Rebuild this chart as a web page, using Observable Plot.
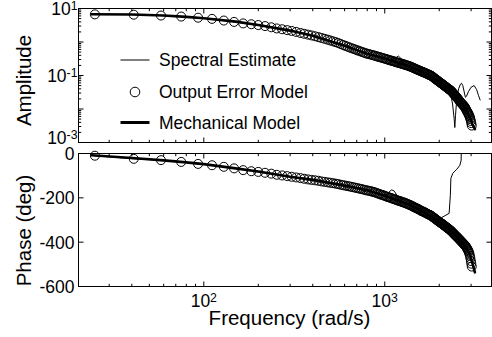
<!DOCTYPE html>
<html><head><meta charset="utf-8">
<script src="https://cdn.jsdelivr.net/npm/d3@7"></script>
<script src="https://cdn.jsdelivr.net/npm/@observablehq/plot@0.6"></script>
<style>
body{margin:0;background:#fff;}
#chart{width:492px;height:337px;position:relative;overflow:hidden;}
#chart svg{display:block;}
</style></head><body><div id="chart"></div>
<script>
// ---------- Output Error Model (circles) ----------
const oeFreq = [25,41,58,75,93,111,129,147,165,183,200,218,236,253,271,289,306,324,342,359,377,394,412,430,447,465,483,500,518,536,553,571,589,606,624,641,659,677,694,712,730,747,765,783,
800,817,835,852,870,888,906,923,941,959,977,994,1012,1030,1047,1065,1083,1100,1118,1136,1153,1171,1189,1206,1224,1242,1259,1277,1295,1312,
1330,1348,1365,1383,1401,1418,1436,1454,1471,1489,1507,1524,1542,1560,1577,1595,1613,1630,1648,1666,1683,1701,1719,1736,1754,1772,1789,1807,1825,1842,
1860,1878,1895,1913,1931,1948,1966,1984,2001,2019,2037,2054,2072,2090,2107,2125,2143,2160,2178,2196,2213,2231,2249,2266,2284,2302,2319,2337,2355,2372,
2390,2408,2425,2443,2461,2478,2496,2514,2531,2549,2567,2584,2602,2620,2637,2655,2673,2690,2708,2726,2743,2761,2779,2796,2814,2832,2849,2867,2885,2902,
2920,2938,2955,2973,2991,3008,3026];
const oeAmp = [6.68,6.53,6.17,5.75,5.31,4.90,4.37,3.98,3.59,3.39,3.20,2.99,2.75,2.54,2.40,2.26,2.14,2.00,1.86,1.76,1.66,1.57,1.48,1.40,1.32,1.245,1.175,1.11,1.047,0.989,0.933,0.871,0.813,0.767,0.724,0.684,0.646,0.617,0.582,0.556,0.531,0.507,0.484,0.462,
0.447,0.434,0.422,0.410,0.398,0.385,0.372,0.361,0.351,0.341,0.331,0.322,0.313,0.304,0.295,0.287,0.279,0.272,0.266,0.258,0.251,0.245,0.240,0.234,0.229,0.224,0.219,0.214,0.209,0.204,
0.200,0.195,0.191,0.185,0.180,0.175,0.170,0.165,0.160,0.155,0.151,0.147,0.143,0.139,0.136,0.132,0.129,0.126,0.123,0.120,0.117,0.114,0.111,0.108,0.106,0.103,0.101,0.098,0.0955,0.0912,
0.0871,0.0837,0.0804,0.0777,0.0750,0.0720,0.0692,0.0669,0.0646,0.0624,0.0603,0.0582,0.0562,0.0543,0.0525,0.0507,0.0490,0.0473,0.0457,0.0442,0.0427,0.0412,0.0398,0.0387,0.0376,0.0365,0.0355,0.0339,0.0324,0.0309,
0.0295,0.0282,0.0269,0.0257,0.0245,0.0234,0.0224,0.0214,0.0204,0.0195,0.0186,0.0178,0.0170,0.0162,0.0155,0.0148,0.0141,0.0136,0.0132,0.0127,0.0123,0.0116,0.0110,0.0104,0.0098,0.0091,0.0085,0.0080,0.0076,0.0071,
0.0066,0.0061,0.0056,0.0050,0.0044,0.0038,0.0032];
const oePhase = [-10,-24,-30,-38,-47,-53,-60,-67,-75,-80,-83,-87,-91,-96,-99,-102,-105,-108,-111,-114,-117,-119,-121,-123,-126,-128,-130,-132,-134,-136,-138,-141,-143,-145,-147,-149,-151,-153,-155,-157,-159,-161,-163,-165,
-167,-168,-170,-172,-174,-176,-179,-181,-184,-186,-188,-190,-193,-195,-197,-199,-201,-203,-205,-207,-209,-211,-213,-214,-216,-218,-220,-221,-223,-225,
-227,-229,-231,-233,-235,-237,-240,-242,-244,-246,-248,-250,-252,-254,-257,-259,-261,-262,-264,-266,-268,-270,-272,-274,-276,-277,-279,-281,-284,-286,
-289,-291,-294,-296,-299,-301,-304,-306,-308,-310,-313,-315,-317,-319,-322,-324,-326,-328,-331,-333,-335,-337,-339,-341,-344,-346,-348,-351,-354,-356,
-359,-362,-365,-367,-370,-372,-375,-377,-380,-382,-385,-387,-390,-392,-395,-397,-400,-402,-405,-407,-409,-412,-415,-418,-421,-424,-428,-432,-436,-441,
-446,-453,-462,-472,-485,-497,-510];

// ---------- Mechanical Model (thick line) ----------
const mechFreq = [24,40,60,80,100,150,200,300,400,600,800,1000,1300,1600,2000,2300,2600,2800,2950,3050,3150];
const mechAmp = [6.76,6.61,6.17,5.62,5.13,4.05,3.2,2.19,1.53,0.776,0.447,0.32,0.204,0.132,0.0646,0.0372,0.0174,0.0102,0.0058,0.0035,0.0025];
const mechPhase = [-8,-20,-31,-40,-48,-67,-81,-105,-119,-145,-166,-191,-224,-259,-308,-345,-390,-420,-455,-495,-536];

// ---------- Spectral Estimate (thin line) ----------
const specAmpFreq = [25,41,58,75,93,111,150,200,300,400,600,800,1000,1100,1150,1190,1230,1270,1500,1800,2100,2297,2370,2420,2439,2460,2500,2560,2620,2655,2700,2750,2790,2830,2900,3000,3118,3220,3300,3366];
const specAmp = [6.68,6.6,6.17,5.75,5.31,4.9,3.95,3.2,2.19,1.54,0.78,0.447,0.32,0.28,0.34,0.38,0.32,0.215,0.152,0.10,0.057,0.0355,0.0141,0.005,0.0028,0.0063,0.020,0.040,0.055,0.059,0.050,0.032,0.0224,0.024,0.033,0.0447,0.050,0.038,0.025,0.0186];
const specPhaseFreq = [25,41,58,75,93,111,150,200,300,400,600,800,990,1030,1060,1094,1130,1170,1200,1500,1800,1965,2042,2269,2304,2320,2378,2503,2601,2644,2650,2656];
const specPhase = [-10,-24,-30,-38,-47,-53,-68,-83,-104,-120,-145,-167,-190,-185,-172,-164,-170,-190,-214,-248,-281,-302,-291,-270,-189,-112,-89,-71,-53,-30,60,200];

// ---------- ticks & labels ----------
const freqMajor = [100,1000];
const freqMinor = [30,40,50,60,70,80,90,200,300,400,500,600,700,800,900,2000,3000];
const freqTickLabels = ["10^2","10^3"];
const ampMajor = [0.001,0.01,0.1,1,10];
const ampMinor = [0.002,0.003,0.004,0.005,0.006,0.007,0.008,0.009,0.02,0.03,0.04,0.05,0.06,0.07,0.08,0.09,0.2,0.3,0.4,0.5,0.6,0.7,0.8,0.9,2,3,4,5,6,7,8,9];
const ampTickValues = [10,0.1,0.001];
const ampTickLabels = ["10^1","10^-1","10^-3"];
const phaseTickValues = [0,-200,-400,-600];
const phaseTickLabels = ["0","-200","-400","-600"];
const legendLabels = ["Spectral Estimate","Output Error Model","Mechanical Model"];
const xTitle = "Frequency (rad/s)", ampTitle = "Amplitude", phaseTitle = "Phase (deg)";

const W = 492;
const FONT = "'Liberation Sans', Arial, Helvetica, sans-serif";
const xDomain = [20.3, 3890];
const tickShape = {draw(ctx, l){ ctx.moveTo(0,0); ctx.lineTo(0,-l); }};
const tk = {shape: tickShape, anchor: "start", stroke: "black", strokeWidth: 1, strokeLinecap: "butt"};
function xTicks(vals, len){
  return [
    Plot.vector(vals, {x: d=>d, frameAnchor: "bottom", rotate: 0, length: len, ...tk}),
    Plot.vector(vals, {x: d=>d, frameAnchor: "top", rotate: 180, length: len, ...tk})
  ];
}
function yTicks(vals, len){
  return [
    Plot.vector(vals, {y: d=>d, frameAnchor: "left", rotate: 90, length: len, ...tk}),
    Plot.vector(vals, {y: d=>d, frameAnchor: "right", rotate: -90, length: len, ...tk})
  ];
}
const style = {fontFamily: FONT, fontSize: "17.5px", background: "white", overflow: "visible", color: "black"};
const ampLab = (d) => ampTickLabels[ampTickValues.indexOf(d)];

const topPlot = Plot.plot({
  width: W, height: 146, marginLeft: 78, marginRight: 1, marginTop: 8, marginBottom: 4,
  style,
  x: {type: "log", domain: xDomain, axis: null},
  y: {type: "log", domain: [1e-3, 10], axis: null},
  marks: [
    Plot.line(specAmpFreq, {x: specAmpFreq, y: specAmp, stroke: "black", strokeWidth: 1, clip: true}),
    Plot.line(mechFreq, {x: mechFreq, y: mechAmp, stroke: "black", strokeWidth: 2.6, clip: true}),
    Plot.dot(oeFreq, {x: oeFreq, y: oeAmp, r: 4.5, stroke: "black", fill: "none", strokeWidth: 1}),
    ...xTicks(freqMajor, 5), ...xTicks(freqMinor, 2.7),
    ...yTicks(ampMajor, 5), ...yTicks(ampMinor, 2.7),
    Plot.frame({stroke: "black", strokeWidth: 1}),
    Plot.text(ampTickValues.slice(0, -1), {y: d=>d, frameAnchor: "left", text: ampLab, textAnchor: "end", lineAnchor: "middle", dx: -1, dy: 1}),
    Plot.text(ampTickValues.slice(-1), {y: d=>d, frameAnchor: "left", text: ampLab, textAnchor: "end", lineAnchor: "middle", dx: -1, dy: -4}),
    Plot.text([ampTitle], {frameAnchor: "left", text: d=>d, dx: -54, dy: 5, rotate: -90, textAnchor: "middle", lineAnchor: "middle", fontSize: 20.5})
  ]
});

const botPlot = Plot.plot({
  width: W, height: 191, marginLeft: 78, marginRight: 1, marginTop: 7, marginBottom: 51,
  style,
  x: {type: "log", domain: xDomain, axis: null},
  y: {domain: [-600, 0], axis: null},
  marks: [
    Plot.line(specPhaseFreq, {x: specPhaseFreq, y: specPhase, stroke: "black", strokeWidth: 1, clip: true}),
    Plot.line(mechFreq, {x: mechFreq, y: mechPhase, stroke: "black", strokeWidth: 2.6, clip: true}),
    Plot.dot(oeFreq, {x: oeFreq, y: oePhase, r: 4.5, stroke: "black", fill: "none", strokeWidth: 1}),
    ...xTicks(freqMajor, 5), ...xTicks(freqMinor, 2.7),
    ...yTicks(phaseTickValues, 5),
    Plot.frame({stroke: "black", strokeWidth: 1}),
    Plot.text(phaseTickValues, {y: d=>d, frameAnchor: "left", text: (d,i)=>phaseTickLabels[i], textAnchor: "end", lineAnchor: "middle", dx: -4, dy: 1}),
    Plot.text(freqMajor, {x: d=>d, frameAnchor: "bottom", text: (d,i)=>freqTickLabels[i], textAnchor: "middle", lineAnchor: "middle", dy: 15}),
    Plot.text([xTitle], {frameAnchor: "bottom", text: d=>d, dy: 32, dx: 4.5, textAnchor: "middle", lineAnchor: "middle", fontSize: 20.5}),
    Plot.text([phaseTitle], {frameAnchor: "left", text: d=>d, dx: -54, dy: 10.5, rotate: -90, textAnchor: "middle", lineAnchor: "middle", fontSize: 20.5})
  ]
});

const chart = document.getElementById("chart");
chart.appendChild(topPlot);
chart.appendChild(botPlot);

// superscript exponents for "10^n" tick labels
for (const svg of [topPlot, botPlot]) {
  d3.select(svg).selectAll("text").each(function(){
    const s = this.textContent;
    if (!s.includes("^")) return;
    const [b, e] = s.split("^");
    while (this.firstChild) this.removeChild(this.firstChild);
    d3.select(this).append("tspan").text(b);
    d3.select(this).append("tspan").attr("dy", "-0.4em").attr("font-size", "0.7em").text(e);
  });
}

// legend inside the amplitude panel
const lg = d3.select(topPlot).append("g").attr("font-family", FONT).attr("font-size", 17.5).attr("text-anchor", "start");
const rows = [{y: 60, k: "thin"}, {y: 92, k: "dot"}, {y: 122.5, k: "thick"}];
rows.forEach((r, i) => {
  if (r.k === "dot") {
    lg.append("circle").attr("cx", 135).attr("cy", r.y).attr("r", 4.8).attr("fill", "none").attr("stroke", "black");
  } else {
    lg.append("line").attr("x1", 120.5).attr("x2", 149.5).attr("y1", r.y).attr("y2", r.y)
      .attr("stroke", "black").attr("stroke-width", r.k === "thick" ? 3 : 1);
  }
  lg.append("text").attr("x", 159).attr("y", r.y).attr("dy", "0.35em").attr("text-anchor", "start").text(legendLabels[i]);
});
</script>
</body></html>
